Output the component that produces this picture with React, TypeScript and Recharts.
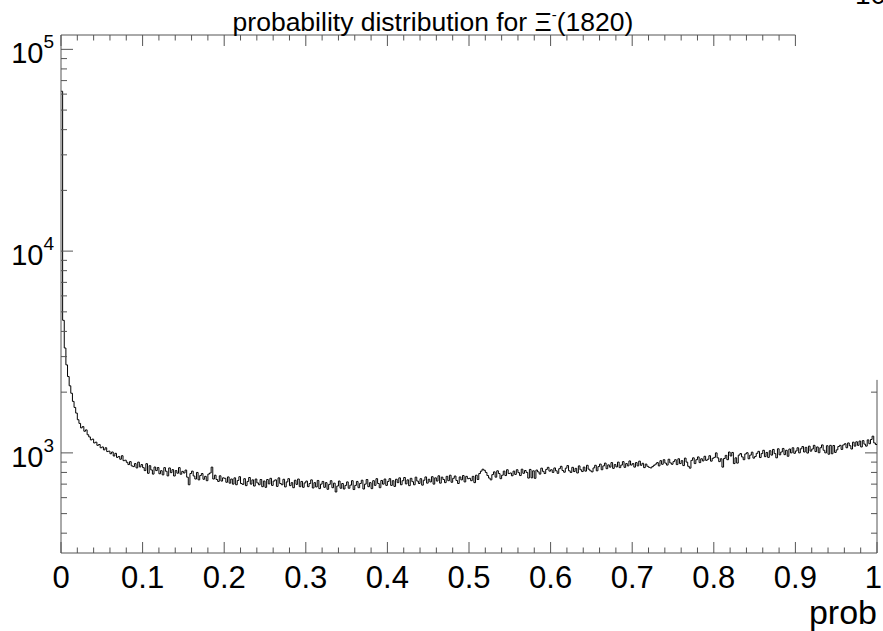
import {
  Line,
  LineChart,
  ReferenceLine,
  XAxis,
  YAxis,
} from "recharts";

// histogram of prob, 500 bins from 0 to 1
const binWidth = 0.002;

const counts: number[] = [
  // 0.00 - 0.05
  62000, 4540, 3310, 2730, 2390, 2150, 1975, 1800, 1680, 1575, 1460, 1400, 1330, 1350, 1280, 1300, 1230, 1200, 1160, 1170, 1120, 1130, 1090, 1100, 1060,
  // 0.05 - 0.10
  1070, 1035, 1060, 1015, 1020, 990, 1010, 965, 995, 950, 960, 930, 968, 915, 920, 898, 875, 905, 862, 855, 885, 842, 900, 852, 875,
  // 0.10 - 0.15
  845, 817, 884, 792, 864, 823, 785, 851, 817, 846, 788, 816, 778, 845, 811, 769, 842, 798, 826, 768, 817, 793, 845, 784, 810,
  // 0.15 - 0.20
  795, 822, 758, 695, 790, 812, 768, 742, 800, 735, 772, 790, 740, 765, 728, 785, 795, 850, 742, 775, 738, 722, 770, 725, 752,
  // 0.20 - 0.25
  748, 715, 760, 708, 742, 700, 752, 695, 730, 762, 705, 698, 745, 688, 722, 755, 700, 735, 685, 742, 710, 695, 738, 680, 725,
  // 0.25 - 0.30
  675, 738, 702, 748, 690, 725, 735, 682, 752, 705, 695, 740, 678, 718, 745, 688, 712, 672, 732, 698, 742, 680, 722, 675, 710,
  // 0.30 - 0.35
  725, 680, 705, 735, 670, 712, 678, 730, 665, 700, 722, 675, 712, 660, 698, 728, 672, 708, 640, 685, 725, 668, 705, 662, 690,
  // 0.35 - 0.40
  718, 668, 692, 728, 658, 690, 722, 672, 705, 732, 662, 700, 738, 680, 712, 665, 728, 690, 745, 705, 672, 730, 700, 742, 690,
  // 0.40 - 0.45
  722, 745, 690, 728, 682, 740, 712, 752, 695, 728, 755, 702, 735, 688, 748, 720, 695, 758, 725, 705, 745, 692, 732, 760, 708,
  // 0.45 - 0.50
  740, 718, 762, 700, 752, 725, 770, 708, 758, 738, 712, 765, 728, 775, 715, 748, 768, 730, 705, 760, 735, 772, 718, 765, 745,
  // 0.50 - 0.55
  748, 728, 765, 712, 775, 738, 790, 812, 830, 820, 800, 772, 750, 735, 780, 805, 758, 815, 790, 745, 775, 812, 772, 825, 790,
  // 0.55 - 0.60
  795, 770, 812, 782, 825, 798, 772, 830, 792, 818, 800, 750, 828, 752, 815, 748, 822, 805, 785, 840, 810, 790, 828, 848, 812,
  // 0.60 - 0.65
  825, 800, 842, 815, 792, 835, 858, 818, 802, 840, 865, 815, 800, 848, 808, 838, 795, 862, 825, 808, 850, 812, 868, 830, 815,
  // 0.65 - 0.70
  805, 842, 868, 815, 855, 880, 825, 862, 890, 835, 872, 850, 895, 838, 875, 852, 900, 845, 870, 905, 848, 885, 862, 912, 870,
  // 0.70 - 0.75
  885, 850, 895, 862, 910, 868, 888, 845, 880, 858, 848, 842, 855, 868, 880, 895, 862, 915, 878, 925, 890, 870, 930, 892, 878,
  // 0.75 - 0.80
  905, 925, 875, 935, 885, 915, 865, 942, 900, 858, 840, 918, 945, 885, 925, 955, 895, 935, 912, 962, 918, 930, 968, 910, 940,
  // 0.80 - 0.85
  950, 1000, 945, 905, 935, 850, 938, 972, 925, 1010, 965, 1005, 885, 945, 890, 975, 992, 955, 925, 988, 1002, 935, 975, 1008, 942,
  // 0.85 - 0.90
  960, 995, 1018, 948, 992, 1030, 958, 1005, 950, 1025, 975, 1040, 992, 945, 1048, 978, 1010, 1052, 980, 1030, 962, 1045, 1000, 1060, 995,
  // 0.90 - 0.95
  1022, 1060, 1000, 1048, 1075, 1010, 1065, 998, 1080, 1020, 1045, 1090, 1015, 1070, 1002, 1060, 1095, 1030, 1000, 1085, 985, 1090, 990, 1088, 1005,
  // 0.95 - 1.00
  1035, 1075, 1090, 1040, 1095, 1110, 1060, 1120, 1085, 1045, 1130, 1080, 1135, 1090, 1145, 1070, 1150, 1105, 1080, 1160, 1110, 1165, 1210, 1120, 1100,
];

const xTicks = [
  0, 0.02, 0.04, 0.06, 0.08, 0.1, 0.12, 0.14, 0.16, 0.18, 0.2, 0.22, 0.24, 0.26, 0.28, 0.3, 0.32, 0.34, 0.36, 0.38,
  0.4, 0.42, 0.44, 0.46, 0.48, 0.5, 0.52, 0.54, 0.56, 0.58, 0.6, 0.62, 0.64, 0.66, 0.68, 0.7, 0.72, 0.74, 0.76, 0.78,
  0.8, 0.82, 0.84, 0.86, 0.88, 0.9, 0.92, 0.94, 0.96, 0.98, 1,
];
const xLabels = ["0", "0.1", "0.2", "0.3", "0.4", "0.5", "0.6", "0.7", "0.8", "0.9", "1"];

const yTicks = [
  400, 500, 600, 700, 800, 900, 1000, 2000, 3000, 4000, 5000, 6000, 7000, 8000, 9000, 10000,
  20000, 30000, 40000, 50000, 60000, 70000, 80000, 90000, 100000,
];
const yExponents = [3, 4, 5];
const yMin = 319;
const yMax = 117800;

// top axis and right axis are partly hidden in the original
const xTicksTop = xTicks.filter((v) => v <= 0.9);
const yTicksRight = yTicks.filter((v) => v <= 2000);
const rightAxisTop = 2300;

const data = counts
  .map((v, i) => ({ x: i * binWidth, v }))
  .concat([{ x: 1, v: counts[counts.length - 1] }]);

const axisColor = "#555";
const font = '"Liberation Sans", Arial, Helvetica, sans-serif';

const isMajorX = (v: number) => Math.round(v * 100) % 10 === 0;
const isMajorY = (v: number) => Math.abs(Math.log10(v) - Math.round(Math.log10(v))) < 1e-6;

const BottomTick = (props: any) => {
  const { x, y, payload } = props;
  const major = isMajorX(payload.value);
  const idx = Math.round(payload.value * 10);
  const label = xLabels[idx];
  // last label hugs the right edge
  const anchor = idx === xLabels.length - 1 ? "end" : "middle";
  const lx = idx === xLabels.length - 1 ? x + 5 : x;
  return (
    <g>
      <line x1={x} y1={y} x2={x} y2={y - (major ? 11 : 5.5)} stroke={axisColor} />
      {major && (
        <text x={lx} y={y + 35} textAnchor={anchor} fontSize={31} fill="#000" fontFamily={font}>
          {label}
        </text>
      )}
    </g>
  );
};

const TopTick = (props: any) => {
  const { x, y, payload } = props;
  const major = isMajorX(payload.value);
  return <line x1={x} y1={y} x2={x} y2={y + (major ? 11 : 5.5)} stroke={axisColor} />;
};

const LeftTick = (props: any) => {
  const { x, y, payload } = props;
  const major = isMajorY(payload.value);
  const exp = Math.round(Math.log10(payload.value));
  return (
    <g>
      <line x1={x} y1={y} x2={x + (major ? 12 : 6)} y2={y} stroke={axisColor} />
      {major && yExponents.includes(exp) && (
        <text x={x - 7} y={y + 14} textAnchor="end" fontSize={29} fill="#000" fontFamily={font}>
          10
          <tspan dy={-15} fontSize={19}>
            {exp}
          </tspan>
        </text>
      )}
    </g>
  );
};

const RightTick = (props: any) => {
  const { x, y, payload } = props;
  const major = isMajorY(payload.value);
  return <line x1={x} y1={y} x2={x - (major ? 12 : 6)} y2={y} stroke={axisColor} />;
};

export default function App() {
  return (
    <div
      style={{
        position: "absolute",
        left: 0,
        top: 0,
        width: 883,
        height: 631,
        background: "#fff",
        fontFamily: font,
      }}
    >
      <LineChart
        width={883}
        height={631}
        data={data}
        margin={{ top: 34, right: 5, bottom: 77, left: 60 }}
      >
        <XAxis
          xAxisId="b"
          dataKey="x"
          type="number"
          domain={[0, 1]}
          ticks={xTicks}
          interval={0}
          height={1}
          tickSize={0}
          tickMargin={0}
          tickLine={false}
          tick={BottomTick}
          axisLine={{ stroke: axisColor }}
        />
        <XAxis
          xAxisId="t"
          orientation="top"
          dataKey="x"
          type="number"
          domain={[0, 1]}
          ticks={xTicksTop}
          interval={0}
          height={1}
          tickSize={0}
          tickMargin={0}
          tickLine={false}
          tick={TopTick}
          axisLine={false}
        />
        <YAxis
          yAxisId="l"
          type="number"
          scale="log"
          domain={[yMin, yMax]}
          allowDataOverflow
          ticks={yTicks}
          interval={0}
          width={1}
          tickSize={0}
          tickMargin={0}
          tickLine={false}
          tick={LeftTick}
          axisLine={{ stroke: axisColor }}
        />
        <YAxis
          yAxisId="r"
          orientation="right"
          type="number"
          scale="log"
          domain={[yMin, yMax]}
          allowDataOverflow
          ticks={yTicksRight}
          interval={0}
          width={1}
          tickSize={0}
          tickMargin={0}
          tickLine={false}
          tick={RightTick}
          axisLine={false}
        />
        <ReferenceLine
          xAxisId="b"
          yAxisId="l"
          segment={[
            { x: 0, y: yMax },
            { x: 0.9, y: yMax },
          ]}
          stroke={axisColor}
          ifOverflow="visible"
        />
        <ReferenceLine
          xAxisId="b"
          yAxisId="l"
          segment={[
            { x: 1, y: yMin },
            { x: 1, y: rightAxisTop },
          ]}
          stroke={axisColor}
          ifOverflow="visible"
        />
        <Line
          xAxisId="b"
          yAxisId="l"
          type="stepAfter"
          dataKey="v"
          stroke="#000"
          strokeWidth={1}
          dot={false}
          isAnimationActive={false}
        />
      </LineChart>
      <svg
        width={883}
        height={631}
        style={{ position: "absolute", left: 0, top: 0, pointerEvents: "none" }}
      >
        <text x={433} y={31} textAnchor="middle" fontSize={26.5} fontFamily={font} fill="#000">
          probability distribution for Ξ
          <tspan dy={-11} fontSize={15}>
            -
          </tspan>
          <tspan dy={11}>(1820)</tspan>
        </text>
        <text x={877} y={624} textAnchor="end" fontSize={34} fontFamily={font} fill="#000">
          prob
        </text>
        <text x={855} y={4} fontSize={28} fontFamily={font} fill="#000">
          10
        </text>
      </svg>
    </div>
  );
}
